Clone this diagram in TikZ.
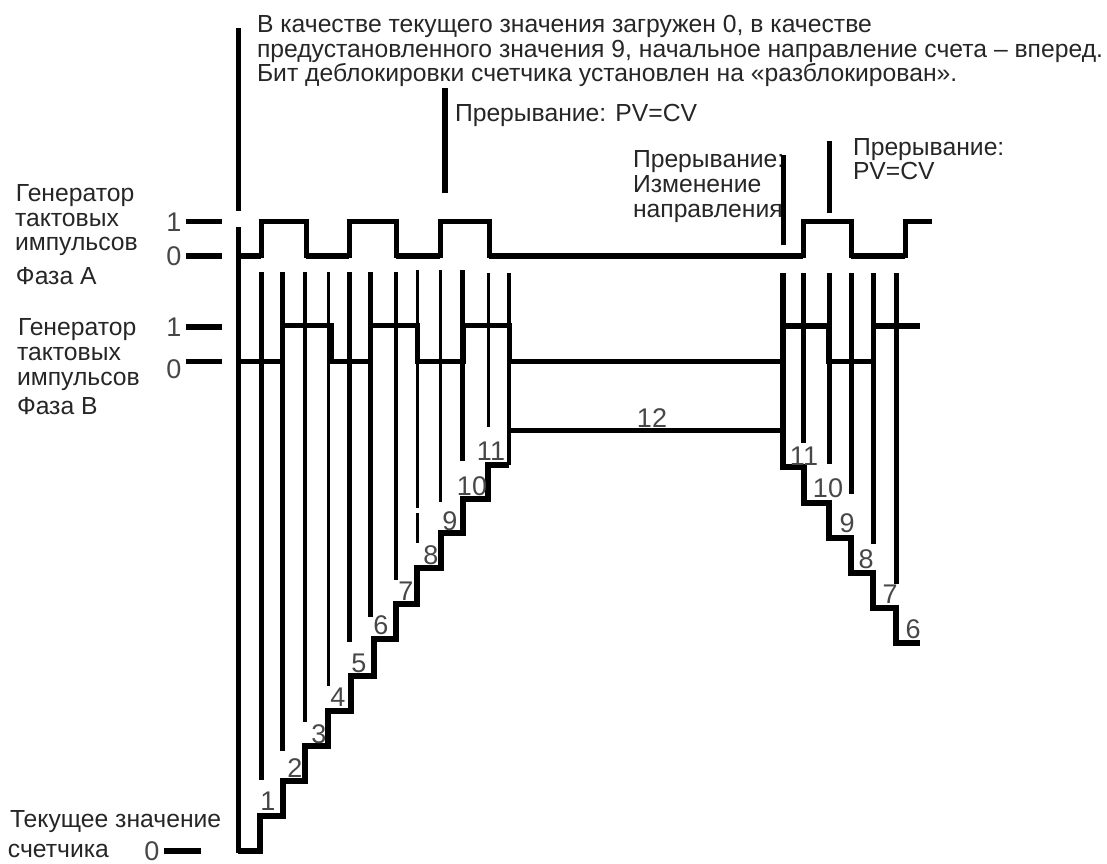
\documentclass[tikz,border=0pt]{standalone}
\usepackage{fontspec}
\setmainfont{Liberation Sans}
\tikzset{
  x=1pt,y=-1pt,
  sig/.style={draw=black,line width=5pt,line cap=butt,line join=miter},
  stair/.style={draw=black,line width=5.5pt,line cap=butt,line join=miter},
  thin sig/.style={draw=black,line width=3.5pt},
  thick sig/.style={draw=black,line width=6.5pt},
  lbl/.style={inner sep=0pt,outer sep=0pt,text=black!85,font=\fontsize{24.7}{26}\selectfont,anchor=base west,align=left},
  num/.style={inner sep=0pt,outer sep=0pt,text=black!72,font=\fontsize{27}{27}\selectfont,anchor=base},
}
\begin{document}
\begin{tikzpicture}
\useasboundingbox (0,0) rectangle (1107,863);
% texts
\node[lbl] (t1) at (257,32) {В качестве текущего значения загружен 0, в качестве};
\node[lbl] (t2) at (257,57) {предустановленного значения 9, начальное направление счета -- вперед.};
\node[lbl] (t3) at (257,81) {Бит деблокировки счетчика установлен на «разблокирован».};
\node[lbl] (t4) at (455,121) {Прерывание: PV=CV};
\node[lbl] (t5) at (633,167) {Прерывание:};
\node[lbl] (t6) at (633,192) {Изменение};
\node[lbl] (t7) at (633,217) {направления};
\node[lbl] (t8) at (853,155) {Прерывание:};
\node[lbl] (t9) at (853,179) {PV=CV};
\node[lbl] (g1) at (16,201) {Генератор};
\node[lbl] (g2) at (15,226) {тактовых};
\node[lbl] (g3) at (15,250) {импульсов};
\node[lbl] (g4) at (16,284) {Фаза А};
\node[lbl] (h1) at (18,335) {Генератор};
\node[lbl] (h2) at (17,360) {тактовых};
\node[lbl] (h3) at (17,385) {импульсов};
\node[lbl] (h4) at (17,414) {Фаза В};
\node[lbl] (c1) at (10,827) {Текущее значение};
\node[lbl] (c2) at (8,857) {счетчика};
% marker lines
\draw[sig] (238,28) -- (238,211);
\draw[sig] (238,227) -- (238,853);
\draw[thick sig] (445,88) -- (445,193);
\draw[sig] (783,155) -- (783,245);
\draw[sig] (829,141) -- (829,213);
% phase A
\draw[thick sig] (186,256) -- (222,256);
\draw[sig] (186,221) -- (222,221);
\draw[thick sig] (238,256) -- (261,256);
\draw[sig] (261,258) -- (261,221) -- (306,221) -- (306,258);
\draw[thick sig] (306,256) -- (349,256);
\draw[sig] (349,258) -- (349,221) -- (396,221) -- (396,258);
\draw[thick sig] (396,256) -- (440,256);
\draw[sig] (440,258) -- (440,221) -- (489,221) -- (489,258);
\draw[thick sig] (489,256) -- (803,256);
\draw[sig] (803,258) -- (803,221) -- (851,221) -- (851,258);
\draw[thick sig] (851,256) -- (905,256);
\draw[sig] (905,258) -- (905,221) -- (932,221);
% phase B
\draw[thick sig] (186,327) -- (222,327);
\draw[sig] (186,361) -- (222,361);
\draw[sig] (238,361) -- (282,361) -- (282,325) -- (331,325) -- (331,361) -- (370,361) -- (370,325) -- (417,325) -- (417,361) -- (463,361) -- (463,325) -- (509,325) -- (509,361) -- (783,361);
\draw[sig] (783,326) -- (828,326) -- (828,361) -- (873,361) -- (873,326);
\draw[thick sig] (783,326) -- (828,326);
\draw[thick sig] (873,326) -- (920,326);
% verticals
\draw[sig] (261,272) -- (261,780);
\draw[sig] (282,272) -- (282,751);
\draw[draw=black,line width=4pt] (305,272) -- (305,722);
\draw[thin sig] (328.5,272) -- (328.5,686);
\draw[sig] (349,272) -- (349,642);
\draw[sig] (370,272) -- (370,617);
\draw[thin sig] (396,272) -- (396,580);
\draw[draw=black,line width=3pt] (417,270) -- (417,508);
\draw[draw=black,line width=3pt] (417,513) -- (417,543);
\draw[draw=black,line width=3pt] (440,270) -- (440,502);
\draw[sig] (462.5,270) -- (462.5,461);
\draw[thin sig] (488.5,273) -- (488.5,427);
\draw[draw=black,line width=4.5pt] (509,273) -- (509,465);
\draw[sig] (803.5,273) -- (803.5,443);
\draw[sig] (829,273) -- (829,464);
\draw[sig] (851,273) -- (851,494);
\draw[sig] (873.5,273) -- (873.5,544);
\draw[sig] (896,273) -- (896,584);
% counter stairs
\draw[stair] (238,851) -- (260,851) -- (260,816) -- (283,816) -- (283,781) -- (305,781) -- (305,746) -- (328,746) -- (328,711) -- (351,711) -- (351,676) -- (374,676) -- (374,639) -- (396,639) -- (396,604) -- (417,604) -- (417,568) -- (441,568) -- (441,533) -- (463,533) -- (463,499) -- (488,499) -- (488,465) -- (509,465);
\draw[sig] (509,430) -- (783,430);
\draw[stair] (783,273) -- (783,467) -- (804,467) -- (804,503) -- (829,503) -- (829,538) -- (851,538) -- (851,573) -- (873,573) -- (873,608) -- (896,608) -- (896,643) -- (920,643);
\draw[thick sig] (164,851) -- (201,851);
% numbers
\node[num] (n1)  at (268,810) {1};
\node[num] (n2)  at (295,777) {2};
\node[num] (n3)  at (319,743) {3};
\node[num] (n4)  at (338,706) {4};
\node[num] (n5)  at (359,672) {5};
\node[num] (n6)  at (381,634) {6};
\node[num] (n7)  at (406,600) {7};
\node[num] (n8)  at (431,564) {8};
\node[num] (n9)  at (450,530) {9};
\node[num] (n10) at (472,495) {10};
\node[num] (n11) at (491,460) {11};
\node[num] (n12) at (652,427) {12};
\node[num] (m11) at (804,465) {11};
\node[num] (m10) at (828,497) {10};
\node[num] (m9)  at (847,532) {9};
\node[num] (m8)  at (866,568) {8};
\node[num] (m7)  at (890,603) {7};
\node[num] (m6)  at (913,638) {6};
% level labels
\node[num] (a1) at (174,231) {1};
\node[num] (a0) at (174,265) {0};
\node[num] (b1) at (174,336) {1};
\node[num] (b0) at (174,378) {0};
\node[num] (c0) at (152,860) {0};
\end{tikzpicture}
\end{document}
